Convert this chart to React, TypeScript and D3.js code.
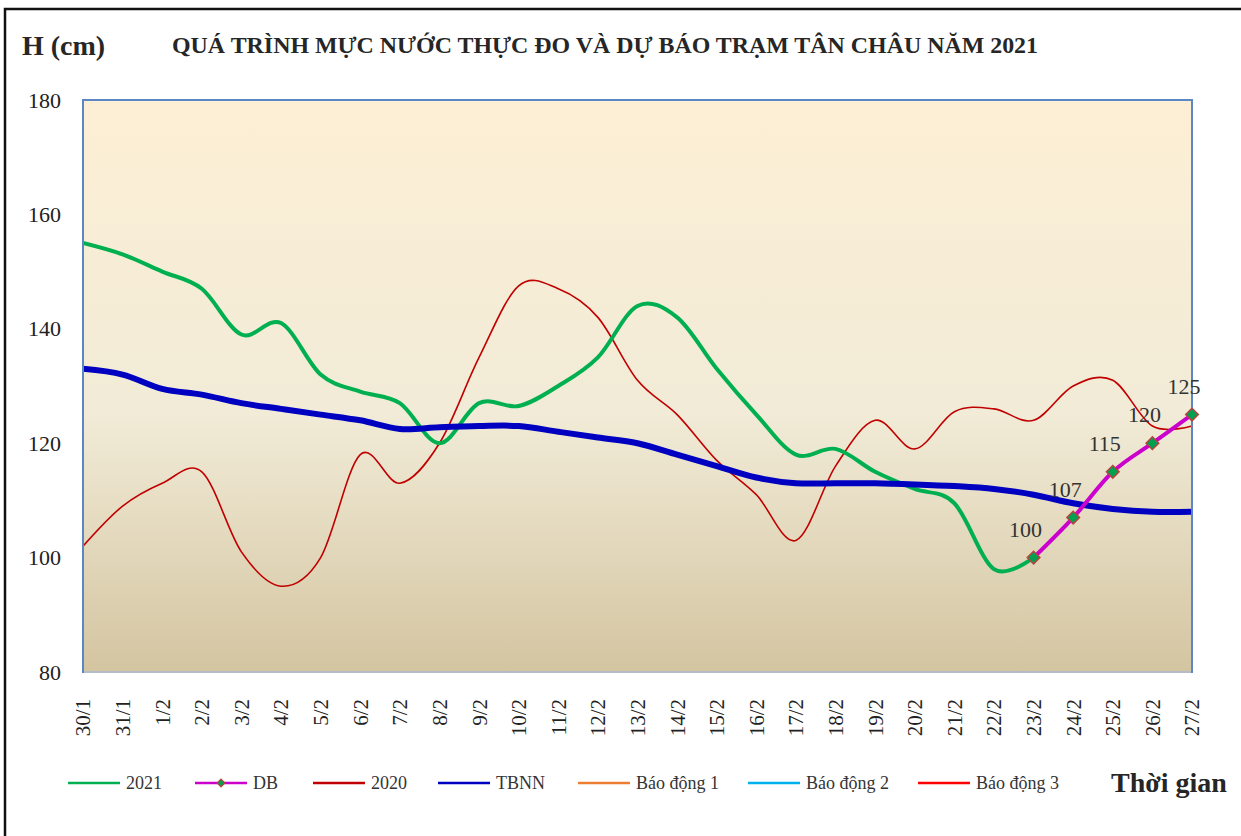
import React, { useRef, useEffect } from "react"
import * as d3 from "d3"

// ngày quan trắc / dự báo
const dates = [
  "30/1", "31/1", "1/2", "2/2", "3/2", "4/2", "5/2", "6/2", "7/2", "8/2",
  "9/2", "10/2", "11/2", "12/2", "13/2", "14/2", "15/2", "16/2", "17/2", "18/2",
  "19/2", "20/2", "21/2", "22/2", "23/2", "24/2", "25/2", "26/2", "27/2",
]

// mực nước thực đo 2021 (cm)
const h2021: (number | null)[] = [
  155, 153, 150, 147, 139, 141, 132, 129, 127, 120,
  127, 126.5, 130, 135, 144, 142, 133, 125, 118, 119,
  115, 112, 109.5, 98, 100, null, null, null, null,
]

// dự báo
const hDB: (number | null)[] = [
  null, null, null, null, null, null, null, null, null, null,
  null, null, null, null, null, null, null, null, null, null,
  null, null, null, null, 100, 107, 115, 120, 125,
]

// cùng kỳ 2020
const h2020 = [
  102, 109, 113, 115, 101, 95, 100, 118, 113, 120,
  135, 147.5, 147, 142, 131, 125, 117, 111, 103, 116,
  124, 119, 125.5, 126, 124, 130, 131, 123, 123,
]

// trung bình nhiều năm
const tbnn = [
  133, 132, 129.5, 128.5, 127, 126, 125, 124, 122.5, 122.8,
  123, 123, 122, 121, 120, 118, 116, 114, 113, 113,
  113, 112.8, 112.5, 112, 111, 109.5, 108.5, 108, 108,
]

const yTicks = [80, 100, 120, 140, 160, 180]
const legendNames = ["2021", "DB", "2020", "TBNN", "Báo động 1", "Báo động 2", "Báo động 3"]

const colors: Record<string, string> = {
  "2021": "#00B050",
  DB: "#CC00CC",
  "2020": "#C00000",
  TBNN: "#0000C0",
  "Báo động 1": "#ED7D31",
  "Báo động 2": "#00B0F0",
  "Báo động 3": "#FF0000",
}

const W = 1241
const H = 836
const plot = { left: 83, right: 1192, top: 100, bottom: 672 }
const font = "'Liberation Serif', 'Times New Roman', serif"

function App() {
  const ref = useRef<SVGSVGElement>(null)

  useEffect(() => {
    const svg = d3.select(ref.current)
    svg.selectAll("*").remove()

    const x = d3.scalePoint<string>().domain(dates).range([plot.left, plot.right])
    const y = d3.scaleLinear().domain([80, 180]).range([plot.bottom, plot.top])

    // khung ngoài
    svg
      .append("rect")
      .attr("x", 5)
      .attr("y", 9)
      .attr("width", 1260)
      .attr("height", 860)
      .attr("fill", "#fff")
      .attr("stroke", "#111")
      .attr("stroke-width", 2.5)

    const defs = svg.append("defs")
    const grad = defs
      .append("linearGradient")
      .attr("id", "bg")
      .attr("x1", 0)
      .attr("y1", 0)
      .attr("x2", 0)
      .attr("y2", 1)
    grad.append("stop").attr("offset", "0%").attr("stop-color", "#FDEFD5")
    grad.append("stop").attr("offset", "55%").attr("stop-color", "#F1EBD7")
    grad.append("stop").attr("offset", "100%").attr("stop-color", "#D4C5A1")

    svg
      .append("rect")
      .attr("x", plot.left)
      .attr("y", plot.top)
      .attr("width", plot.right - plot.left)
      .attr("height", plot.bottom - plot.top)
      .attr("fill", "url(#bg)")

    defs
      .append("clipPath")
      .attr("id", "clip")
      .append("rect")
      .attr("x", plot.left)
      .attr("y", plot.top)
      .attr("width", plot.right - plot.left)
      .attr("height", plot.bottom - plot.top)

    // trục Y
    const gy = svg
      .append("g")
      .attr("transform", `translate(${plot.left},0)`)
      .call(d3.axisLeft(y).tickValues(yTicks).tickSize(0).tickPadding(22))
    gy.select(".domain").remove()
    gy.selectAll("text")
      .attr("font-family", font)
      .attr("font-size", 22)
      .attr("fill", "#222")

    // trục X
    const gx = svg
      .append("g")
      .attr("transform", `translate(0,${plot.bottom})`)
      .call(d3.axisBottom(x).tickSize(0))
    gx.select(".domain").remove()
    gx.selectAll("text")
      .attr("font-family", font)
      .attr("font-size", 21)
      .attr("fill", "#222")
      .attr("text-anchor", "end")
      .attr("transform", "rotate(-90)")
      .attr("x", -27)
      .attr("y", 0)
      .attr("dy", "0.33em")

    const lineGen = (vals: (number | null)[]) =>
      d3
        .line<number | null>()
        .defined(d => d !== null)
        .x((d, i) => x(dates[i]) as number)
        .y(d => y(d as number))
        .curve(d3.curveCardinal.tension(0))(vals)

    const lines = svg.append("g").attr("clip-path", "url(#clip)")
    lines
      .append("path")
      .attr("d", lineGen(h2020))
      .attr("fill", "none")
      .attr("stroke", colors["2020"])
      .attr("stroke-width", 1.6)
    lines
      .append("path")
      .attr("d", lineGen(h2021))
      .attr("fill", "none")
      .attr("stroke", colors["2021"])
      .attr("stroke-width", 4)
    lines
      .append("path")
      .attr("d", lineGen(tbnn))
      .attr("fill", "none")
      .attr("stroke", colors.TBNN)
      .attr("stroke-width", 6)
    lines
      .append("path")
      .attr("d", lineGen(hDB))
      .attr("fill", "none")
      .attr("stroke", colors.DB)
      .attr("stroke-width", 4)

    // viền vùng vẽ
    svg
      .append("rect")
      .attr("x", plot.left)
      .attr("y", plot.top)
      .attr("width", plot.right - plot.left)
      .attr("height", plot.bottom - plot.top)
      .attr("fill", "none")
      .attr("stroke", "#5B87C5")
      .attr("stroke-width", 2)
    svg
      .append("line")
      .attr("x1", plot.left + 1)
      .attr("x2", plot.right - 1)
      .attr("y1", plot.bottom)
      .attr("y2", plot.bottom)
      .attr("stroke", "#B4BCC8")
      .attr("stroke-width", 2)

    const diamond = d3.symbol().type(d3.symbolSquare).size(80)
    const dbPts = hDB.map((v, i) => ({ v, d: dates[i] })).filter(p => p.v !== null)

    svg
      .append("g")
      .selectAll("path")
      .data(dbPts)
      .join("path")
      .attr("d", diamond)
      .attr("transform", p => `translate(${x(p.d)},${y(p.v as number)}) rotate(45)`)
      .attr("fill", "#00A050")
      .attr("stroke", "#B5453F")
      .attr("stroke-width", 1.5)

    svg
      .append("g")
      .selectAll("text")
      .data(dbPts)
      .join("text")
      .attr("x", p => (x(p.d) as number) - 8)
      .attr("y", p => y(p.v as number) - 21)
      .attr("text-anchor", "middle")
      .attr("font-family", font)
      .attr("font-size", 22)
      .attr("fill", "#333")
      .text(p => String(p.v))

    // tiêu đề
    svg
      .append("text")
      .attr("x", 22)
      .attr("y", 55)
      .attr("font-family", font)
      .attr("font-weight", "bold")
      .attr("font-size", 28)
      .attr("fill", "#262626")
      .text("H (cm)")
    svg
      .append("text")
      .attr("x", 172)
      .attr("y", 53)
      .attr("font-family", font)
      .attr("font-weight", "bold")
      .attr("font-size", 23)
      .attr("fill", "#262626")
      .attr("textLength", 866)
      .attr("lengthAdjust", "spacingAndGlyphs")
      .text("QUÁ TRÌNH MỰC NƯỚC THỰC ĐO VÀ DỰ BÁO TRẠM TÂN CHÂU NĂM 2021")

    // chú giải
    const legendX = [68, 195, 313, 438, 578, 748, 918]
    const ly = 783
    const lg = svg
      .append("g")
      .selectAll("g")
      .data(legendNames)
      .join("g")
      .attr("transform", (d, i) => `translate(${legendX[i]},${ly})`)
    lg.append("line")
      .attr("x1", 0)
      .attr("x2", 52)
      .attr("stroke", d => colors[d])
      .attr("stroke-width", 2.5)
    lg.filter(d => d === "DB")
      .append("path")
      .attr("d", d3.symbol().type(d3.symbolSquare).size(30))
      .attr("transform", "translate(26,0) rotate(45)")
      .attr("fill", "#00A050")
      .attr("stroke", "#B5453F")
      .attr("stroke-width", 1.2)
    lg.append("text")
      .attr("x", 58)
      .attr("dy", "0.35em")
      .attr("font-family", font)
      .attr("font-size", 18)
      .attr("fill", "#333")
      .text(d => d)

    svg
      .append("text")
      .attr("x", 1111)
      .attr("y", 792)
      .attr("font-family", font)
      .attr("font-weight", "bold")
      .attr("font-size", 28)
      .attr("fill", "#262626")
      .text("Thời gian")
  }, [])

  return (
    <svg
      ref={ref}
      width={W}
      height={H}
      style={{ position: "absolute", left: 0, top: 0, background: "#fff" }}
    ></svg>
  )
}

export default App
